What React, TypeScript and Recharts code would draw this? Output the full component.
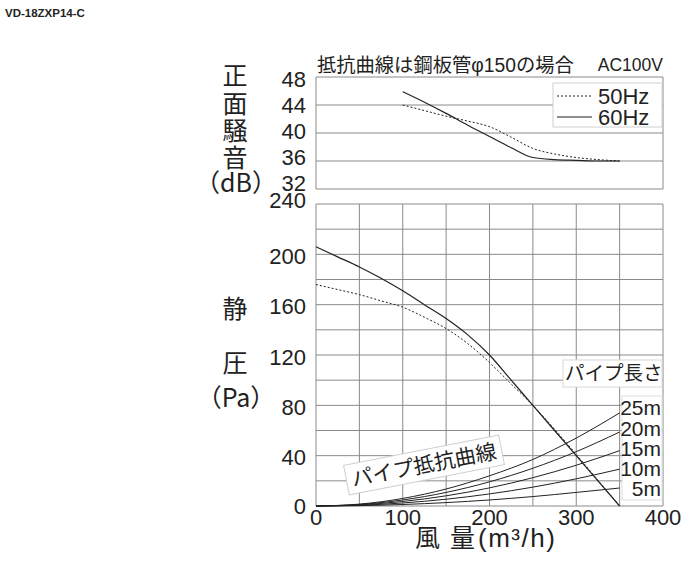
import React from 'react';
import { LineChart, Line, XAxis, YAxis, CartesianGrid } from 'recharts';

// ---- axes ----
const flowTicks = [0, 50, 100, 150, 200, 250, 300, 350, 400];
const noiseTicks = [32, 36, 40, 44, 48];
const pressureTicks = [0, 20, 40, 60, 80, 100, 120, 140, 160, 180, 200, 220, 240];

// ---- noise (dB) ----
const noiseFlow = [100, 125, 150, 175, 200, 225, 250, 275, 300, 325, 350];
const noise50 = [44.0, 43.2, 42.4, 41.7, 40.9, 39.4, 37.8, 37.0, 36.5, 36.2, 36.0];
const noise60 = [45.9, 44.4, 42.8, 41.1, 39.5, 37.9, 36.5, 36.2, 36.1, 36.0, 36.0];

// ---- static pressure (Pa) ----
const pressureFlow = [0, 25, 50, 75, 100, 125, 150, 175, 200, 225, 250, 275, 300, 325, 350];
const pressure50 = [176, 172, 168, 163, 158, 150, 141, 129, 114, 97, 80, 61, 41, 20.5, 0];
const pressure60 = [206, 198, 190, 181, 171, 160, 149, 136, 120, 100, 80, 60, 40, 20, 0];

// ---- pipe resistance curves (Pa) ----
const pipeFlow = [0, 50, 100, 150, 200, 250, 300, 350];
const pipe5m = [0, 0.3, 1.2, 2.7, 4.8, 7.5, 10.8, 14.3];
const pipe10m = [0, 0.6, 2.4, 5.4, 9.6, 15.0, 21.6, 29.3];
const pipe15m = [0, 0.9, 3.6, 8.1, 14.4, 22.5, 32.4, 44.0];
const pipe20m = [0, 1.2, 4.8, 10.8, 19.2, 30.0, 43.2, 58.8];
const pipe25m = [0, 1.5, 6.0, 13.5, 24.0, 37.0, 54.0, 74.0];
const pipeLabels = ['25m', '20m', '15m', '10m', '5m'];

const noiseRows = noiseFlow.map((q, i) => ({ q, n50: noise50[i], n60: noise60[i] }));
const pressureRows = pressureFlow.map((q, i) => ({ q, p50: pressure50[i], p60: pressure60[i] }));
const pipeSets = [pipe25m, pipe20m, pipe15m, pipe10m, pipe5m].map((vals) =>
  pipeFlow.map((q, i) => ({ q, v: vals[i] }))
);

const SANS = '"Liberation Sans", Arial, sans-serif';
const JP = '"Noto Sans CJK JP", "Liberation Sans", sans-serif';
const GRID = '#8a8a8a';
const INK = '#222';
const tickStyle = { fontSize: 22, fill: INK, fontFamily: SANS };

// tick label renderers: labels are slightly compressed toward the middle, as in the print
const NoiseTick = (props: any) => {
  const { x, y, payload } = props;
  const dy = (payload.value - 40) * 0.5 - 2;
  return (
    <text x={x} y={y + dy} dy="0.355em" textAnchor="end" {...tickStyle}>{payload.value}</text>
  );
};
const PressureTick = (props: any) => {
  const { x, y, payload } = props;
  if (payload.value % 40 !== 0) return <g />;
  const dy = payload.value === 240 ? -4 : payload.value === 0 ? 0 : 2;
  return (
    <text x={x} y={y + dy} dy="0.355em" textAnchor="end" {...tickStyle}>{payload.value}</text>
  );
};

export default function App() {
  return (
    <div style={{ position: 'absolute', left: 0, top: 0, width: 700, height: 564, background: '#fff', overflow: 'hidden' }}>
      {/* noise chart */}
      <div style={{ position: 'absolute', left: 0, top: 0 }}>
        <LineChart width={700} height={200} data={noiseRows} margin={{ top: 77, right: 37, bottom: 0, left: 256 }}>
          <CartesianGrid stroke={GRID} strokeWidth={1} />
          <XAxis dataKey="q" type="number" domain={[0, 400]} ticks={flowTicks} tick={false} axisLine={false} tickLine={false} height={11} />
          <YAxis type="number" domain={[32, 48]} ticks={noiseTicks} width={60} axisLine={false} tickLine={false} tickSize={4} tickMargin={6} tick={<NoiseTick />} interval={0} />
          <Line dataKey="n50" type="monotone" stroke={INK} strokeWidth={1} strokeDasharray="2 2" dot={false} isAnimationActive={false} />
          <Line dataKey="n60" type="monotone" stroke={INK} strokeWidth={1.2} dot={false} isAnimationActive={false} />
        </LineChart>
      </div>
      {/* pressure chart */}
      <div style={{ position: 'absolute', left: 0, top: 0 }}>
        <LineChart width={700} height={564} data={pressureRows} margin={{ top: 204, right: 37, bottom: 28, left: 256 }}>
          <CartesianGrid stroke={GRID} strokeWidth={1} />
          <XAxis dataKey="q" type="number" domain={[0, 400]} ticks={flowTicks} interval={0} height={30} axisLine={false} tickLine={false} tickSize={3} tickMargin={0} tick={tickStyle} tickFormatter={(v: number) => (v % 100 === 0 ? String(v) : '')} />
          <YAxis type="number" domain={[0, 240]} ticks={pressureTicks} interval={0} width={60} axisLine={false} tickLine={false} tickSize={4} tickMargin={6} tick={<PressureTick />} />
          {pipeSets.map((d, i) => (
            <Line key={pipeLabels[i]} data={d} dataKey="v" type="monotone" stroke={INK} strokeWidth={1} dot={false} isAnimationActive={false} />
          ))}
          <Line dataKey="p50" type="monotone" stroke={INK} strokeWidth={1} strokeDasharray="2 2" dot={false} isAnimationActive={false} />
          <Line dataKey="p60" type="monotone" stroke={INK} strokeWidth={1.2} dot={false} isAnimationActive={false} />
        </LineChart>
      </div>
      {/* annotations */}
      <svg width={700} height={564} style={{ position: 'absolute', left: 0, top: 0, pointerEvents: 'none' }}>
        <text x={5} y={17} fontSize={11.5} fontWeight="bold" fontFamily={SANS} fill={INK}>VD-18ZXP14-C</text>
        <text x={317} y={72} fontSize={19.3} fontFamily={JP} fill={INK}>抵抗曲線は鋼板管<tspan fontFamily={SANS}>φ150</tspan>の場合</text>
        <text x={663} y={71} fontSize={17.5} fontFamily={SANS} fill={INK} textAnchor="end">AC100V</text>

        {/* y titles */}
        <g fontFamily={JP} fontSize={25} fill={INK} textAnchor="middle">
          <text x={235} y={84.5}>正</text>
          <text x={235} y={112.5}>面</text>
          <text x={235} y={139.5}>騒</text>
          <text x={235} y={166.5}>音</text>
          <text x={236} y={191.5}>（dB）</text>
          <text x={235} y={317.5}>静</text>
          <text x={235} y={371.5}>圧</text>
          <text x={236} y={406.5}>（Pa）</text>
        </g>

        {/* x title */}
        <g fill={INK}>
          <text x={415} y={547} fontSize={25} fontFamily={JP}>風</text>
          <text x={450} y={547} fontSize={25} fontFamily={JP}>量</text>
          <text x={478} y={547} fontSize={26} fontFamily={SANS} letterSpacing={1.5}>(m³/h)</text>
        </g>

        {/* legend */}
        <rect x={553} y={83} width={109} height={44} fill="#fff" stroke="#d0d0d0" />
        <line x1={557} x2={592} y1={96} y2={96} stroke={INK} strokeWidth={1} strokeDasharray="2 2" />
        <line x1={557} x2={592} y1={117} y2={117} stroke={INK} strokeWidth={1.2} />
        <text x={598} y={104} fontSize={22} fontFamily={SANS} fill={INK}>50Hz</text>
        <text x={598} y={125} fontSize={22} fontFamily={SANS} fill={INK}>60Hz</text>

        {/* pipe length */}
        <rect x={563} y={360} width={99} height={27} fill="#fff" stroke="#d8d8d8" />
        <text x={565} y={380} fontSize={19.5} fontFamily={JP} fill={INK}>パイプ長さ</text>
        <rect x={622} y={396} width={40} height={104} fill="#fff" stroke="#e0e0e0" />
        <g fontSize={21} fontFamily={SANS} fill={INK} textAnchor="end">
          <text x={661} y={415}>{pipeLabels[0]}</text>
          <text x={661} y={435.5}>{pipeLabels[1]}</text>
          <text x={661} y={455.5}>{pipeLabels[2]}</text>
          <text x={661} y={475.5}>{pipeLabels[3]}</text>
          <text x={661} y={495.5}>{pipeLabels[4]}</text>
        </g>

        {/* rotated label */}
        <g transform="translate(424,465) rotate(-11)">
          <rect x={-79} y={-15} width={158} height={30} fill="#fff" stroke="#cfcfcf" />
          <text x={0} y={7.5} fontSize={21} fontFamily={JP} fill={INK} textAnchor="middle">パイプ抵抗曲線</text>
        </g>
      </svg>
    </div>
  );
}
